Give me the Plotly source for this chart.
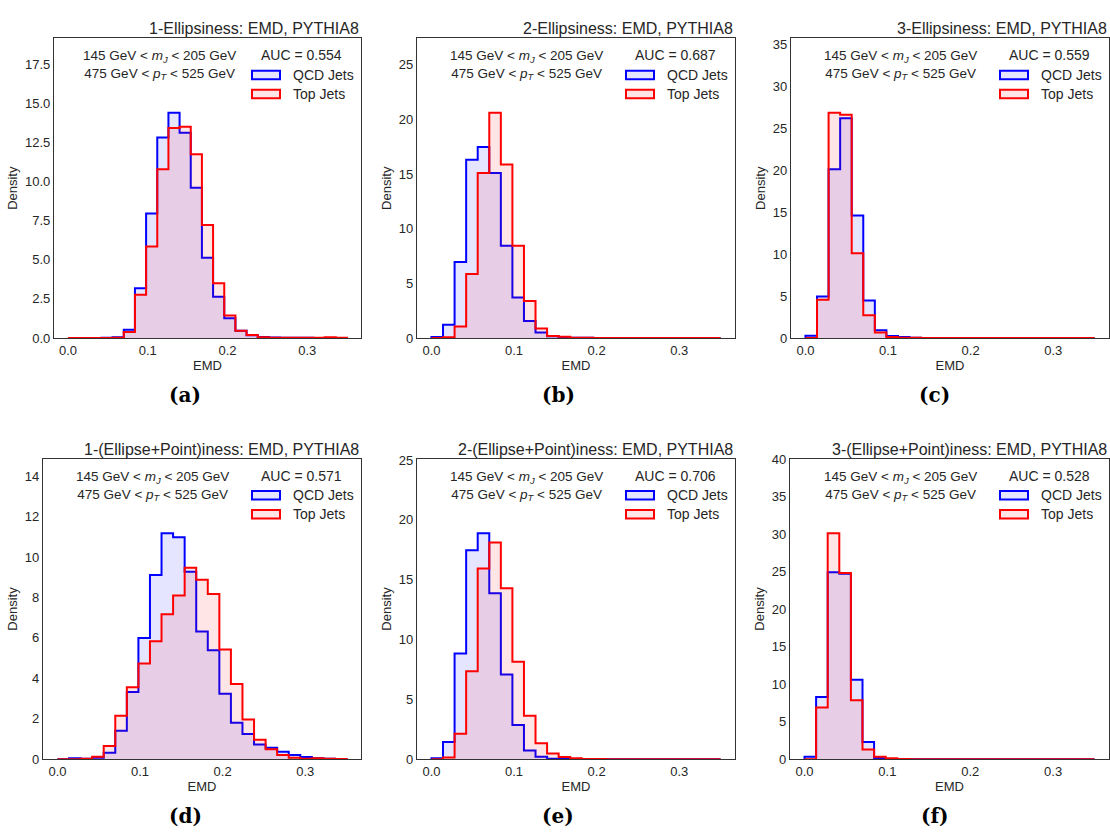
import plotly.graph_objects as go
from plotly.subplots import make_subplots

# ---------------- data ----------------
bin_edges = [round(i * 0.014, 3) for i in range(26)]  # 0.0 .. 0.35, 25 bins

panel_titles = [
    "1-Ellipsiness: EMD, PYTHIA8",
    "2-Ellipsiness: EMD, PYTHIA8",
    "3-Ellipsiness: EMD, PYTHIA8",
    "1-(Ellipse+Point)iness: EMD, PYTHIA8",
    "2-(Ellipse+Point)iness: EMD, PYTHIA8",
    "3-(Ellipse+Point)iness: EMD, PYTHIA8",
]
panel_letters = ["(a)", "(b)", "(c)", "(d)", "(e)", "(f)"]
auc_values = ["0.554", "0.687", "0.559", "0.571", "0.706", "0.528"]
series_names = ["QCD Jets", "Top Jets"]

qcd_a = [0, 0, 0, 0.01, 0.05, 0.52, 3.19, 7.97, 12.83, 14.42, 13.14, 9.62, 5.14, 2.64, 1.26, 0.46, 0.17, 0.06, 0.03, 0.02, 0.01, 0.01, 0, 0, 0]
top_a = [0, 0, 0, 0, 0.02, 0.38, 2.77, 5.85, 10.8, 13.44, 13.52, 11.76, 7.23, 3.5, 1.43, 0.46, 0.19, 0.04, 0.02, 0.02, 0.01, 0.01, 0.01, 0.05, 0.01]

qcd_b = [0.09, 1.2, 6.95, 16.3, 17.46, 15.1, 8.44, 3.71, 1.56, 0.5, 0.15, 0.05, 0.02, 0.01, 0, 0, 0, 0, 0, 0, 0, 0, 0, 0, 0]
top_b = [0, 0.06, 1.05, 5.84, 15.1, 20.6, 15.87, 8.44, 3.38, 0.87, 0.18, 0.1, 0.03, 0.01, 0, 0, 0, 0, 0, 0, 0, 0, 0, 0, 0]

qcd_c = [0.27, 4.94, 20.1, 26.2, 14.6, 4.47, 0.93, 0.23, 0.1, 0.02, 0, 0, 0, 0, 0, 0, 0, 0, 0, 0, 0, 0, 0, 0, 0]
top_c = [0, 4.55, 26.85, 26.6, 10.1, 2.72, 0.66, 0.1, 0.02, 0.01, 0, 0, 0, 0, 0, 0, 0, 0, 0, 0, 0, 0, 0, 0, 0]

qcd_d = [0, 0.05, 0.03, 0.08, 0.32, 1.41, 3.33, 6.0, 9.11, 11.17, 10.97, 9.27, 6.31, 5.39, 3.24, 1.8, 1.25, 0.73, 0.57, 0.37, 0.21, 0.11, 0.05, 0.02, 0.01]
top_d = [0, 0, 0.03, 0.13, 0.65, 2.15, 3.56, 4.74, 5.84, 7.17, 8.09, 9.47, 8.87, 8.17, 5.42, 3.72, 1.96, 0.97, 0.49, 0.21, 0.08, 0.03, 0.05, 0.03, 0.01]

qcd_e = [0.08, 1.45, 8.83, 17.46, 18.88, 13.88, 7.08, 2.87, 0.74, 0.22, 0.05, 0.03, 0.01, 0, 0, 0, 0, 0, 0, 0, 0, 0, 0, 0, 0]
top_e = [0, 0.14, 2.13, 7.35, 15.93, 18.11, 14.29, 8.14, 3.63, 1.34, 0.49, 0.19, 0.08, 0.03, 0.02, 0.01, 0, 0, 0, 0, 0, 0, 0, 0, 0]

qcd_f = [0.35, 8.3, 24.9, 24.7, 10.6, 2.31, 0.17, 0.03, 0.01, 0, 0, 0, 0, 0, 0, 0, 0, 0, 0, 0, 0, 0, 0, 0, 0]
top_f = [0, 6.9, 30.1, 24.8, 7.86, 1.31, 0.35, 0.13, 0.03, 0.01, 0, 0, 0, 0, 0, 0, 0, 0, 0, 0, 0, 0, 0, 0, 0]

qcd_series = [qcd_a, qcd_b, qcd_c, qcd_d, qcd_e, qcd_f]
top_series = [top_a, top_b, top_c, top_d, top_e, top_f]

y_dticks = [2.5, 5, 5, 2, 5, 5]
y_formats = [".1f", "d", "d", "d", "d", "d"]
x_tickvals = [0.0, 0.1, 0.2, 0.3]
x_ticktext = ["0.0", "0.1", "0.2", "0.3"]

# ---------------- styling ----------------
W, H = 1110, 836
FONT = "Liberation Sans, Arial, sans-serif"
TXT = "#262626"
EDGE = ["#0000ff", "#ff0000"]
FILL = ["rgba(0,0,255,0.10)", "rgba(255,0,0,0.10)"]

col_dom_top = [(54, 361), (417, 735), (791, 1109)]
col_dom_bot = [(43, 361), (417, 735), (790, 1109)]
row_dom = [(32, 337), (460, 766)]


def step_xy(edges, counts):
    xs = [edges[0]] + list(edges) + [edges[-1]]
    ys = [0] + list(counts) + [counts[-1], 0]
    return xs, ys


fig = make_subplots(rows=2, cols=3, horizontal_spacing=0.05, vertical_spacing=0.1)

for i in range(6):
    r, c = i // 3 + 1, i % 3 + 1
    for s, series in enumerate([qcd_series[i], top_series[i]]):
        xs, ys = step_xy(bin_edges, series)
        fig.add_trace(
            go.Scatter(
                x=xs, y=ys, mode="lines", line=dict(shape="hv", color=EDGE[s], width=2),
                fill="tozeroy", fillcolor=FILL[s], name=series_names[s], showlegend=False,
                hoverinfo="skip",
            ),
            row=r, col=c,
        )

annotations = []
shapes = []
for i in range(6):
    r, c = i // 3, i % 3
    cd = (col_dom_top if r == 0 else col_dom_bot)[c]
    rd = row_dom[r]
    xd = [cd[0] / W, cd[1] / W]
    yd = [1 - rd[1] / H, 1 - rd[0] / H]
    ax = "" if i == 0 else str(i + 1)
    ymax = 1.33 * max(max(qcd_series[i]), max(top_series[i]))
    fig.layout["xaxis" + ax].update(
        domain=xd, range=[-0.0175, 0.3675], tickvals=x_tickvals, ticktext=x_ticktext,
        showgrid=False, zeroline=False, showline=True, mirror=True, linecolor="#333333", linewidth=1.25,
        ticks="", tickfont=dict(family=FONT, size=13, color=TXT),
        title=dict(text="EMD", font=dict(family=FONT, size=13, color=TXT), standoff=3),
    )
    fig.layout["yaxis" + ax].update(
        domain=yd, range=[0, ymax], dtick=y_dticks[i], tick0=0, tickformat=y_formats[i],
        showgrid=False, zeroline=False, showline=True, mirror=True, linecolor="#333333", linewidth=1.25,
        ticks="", tickfont=dict(family=FONT, size=13, color=TXT),
        title=dict(text="Density", font=dict(family=FONT, size=13, color=TXT), standoff=4),
    )
    xref = "x" + ax + " domain"
    yref = "y" + ax + " domain"
    # panel title
    annotations.append(dict(
        text=panel_titles[i], xref=xref, yref=yref, x=1, y=1, xanchor="right", yanchor="bottom",
        yshift=-1, showarrow=False, font=dict(family=FONT, size=16, color=TXT),
    ))
    # cut text
    annotations.append(dict(
        text="145 GeV &lt; <i>m</i><sub><i>J</i></sub> &lt; 205 GeV<br>475 GeV &lt; <i>p</i><sub><i>T</i></sub> &lt; 525 GeV",
        xref=xref, yref=yref, x=0.345, y=0.91, xanchor="center", yanchor="middle", align="center",
        showarrow=False, font=dict(family=FONT, size=13.5, color=TXT),
    ))
    # legend title
    annotations.append(dict(
        text="AUC = " + auc_values[i], xref=xref, yref=yref, x=1, y=1, xshift=-60, yshift=-17,
        xanchor="center", yanchor="middle", showarrow=False, font=dict(family=FONT, size=14, color=TXT),
    ))
    for s in range(2):
        yc = -36.5 - 19 * s
        annotations.append(dict(
            text=series_names[s], xref=xref, yref=yref, x=1, y=1, xshift=-70, yshift=yc,
            xanchor="left", yanchor="middle", showarrow=False, font=dict(family=FONT, size=14, color=TXT),
        ))
        shapes.append(dict(
            type="rect", xref=xref, yref=yref, xsizemode="pixel", ysizemode="pixel",
            xanchor=1, yanchor=1, x0=-109, x1=-81, y0=yc - 4.2, y1=yc + 4.2,
            line=dict(color=EDGE[s], width=2), fillcolor=FILL[s],
        ))
    # sub-figure letter
    lx = [185, 558, 935][c] / W
    if r == 0:
        ly, yanc, ysh = 1 - 395 / H, "middle", 0
    else:
        ly, yanc, ysh = 0, "bottom", -2
    annotations.append(dict(
        text="<b>" + panel_letters[i] + "</b>", xref="paper", yref="paper", x=lx, y=ly,
        xanchor="center", yanchor=yanc, yshift=ysh, showarrow=False,
        font=dict(family="DejaVu Serif, serif", size=20, color="#000000"),
    ))

fig.update_layout(
    width=W, height=H, margin=dict(l=0, r=0, t=0, b=0),
    paper_bgcolor="white", plot_bgcolor="white", showlegend=False,
    annotations=annotations, shapes=shapes,
)

fig.write_html("out.html")
